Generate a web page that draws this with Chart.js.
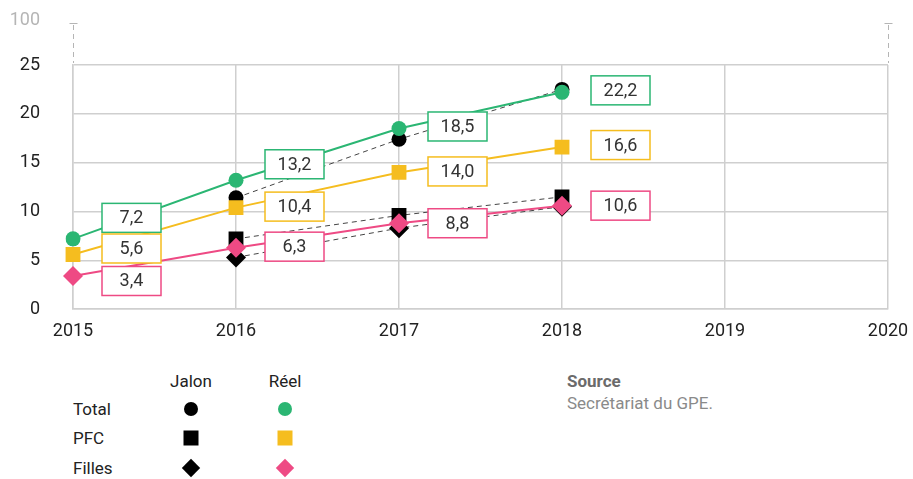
<!DOCTYPE html>
<html lang="fr">
<head>
<meta charset="utf-8">
<script src="https://cdn.jsdelivr.net/npm/chart.js@4.4.1/dist/chart.umd.min.js"></script>
<style>
    html, body { margin: 0; padding: 0; background: #fff; }
    body { width: 913px; height: 479px; position: relative; overflow: hidden; font-family: Roboto, 'Noto Sans', sans-serif; color: #222; }
    #chartBox { position: absolute; left: 0; top: 0; width: 913px; height: 353px; }
    .txt { position: absolute; font-size: 17px; line-height: 20px; white-space: nowrap; }
    .hdr { transform: translateX(-50%); }
    .mk { position: absolute; transform: translate(-50%, -50%); }
    .dot { width: 14px; height: 14px; border-radius: 50%; }
    .sq { width: 15px; height: 15px; }
    .dia { width: 13px; height: 13px; transform: translate(-50%, -50%) rotate(45deg); }
    .src { color: #6b6b6b; font-weight: 700; }
    .src2 { color: #8a8a8a; }
</style>
</head>
<body>
<div id="chartBox"><canvas id="progressChart" width="913" height="353"></canvas></div>

<div class="txt hdr" style="left:191px;top:371px;">Jalon</div>
<div class="txt hdr" style="left:285px;top:371px;">Réel</div>
<div class="txt" style="left:73px;top:399px;">Total</div>
<div class="txt" style="left:73px;top:428px;">PFC</div>
<div class="txt" style="left:73px;top:458px;">Filles</div>
<div class="mk dot" style="left:191px;top:409px;background:#000;"></div>
<div class="mk dot" style="left:285px;top:409px;background:#2bb673;"></div>
<div class="mk sq" style="left:191px;top:438px;background:#000;"></div>
<div class="mk sq" style="left:285px;top:438px;background:#f5bd1f;"></div>
<div class="mk dia" style="left:191px;top:468px;background:#000;"></div>
<div class="mk dia" style="left:285px;top:468px;background:#ee4a84;"></div>
<div class="txt src" style="left:567px;top:371px;">Source</div>
<div class="txt src2" style="left:567px;top:393px;">Secrétariat du GPE.</div>

<script>
const years = ['2015', '2016', '2017', '2018', '2019', '2020'];

const totalReel = [7.2, 13.2, 18.5, 22.2];
const pfcReel = [5.6, 10.4, 14.0, 16.6];
const fillesReel = [3.4, 6.3, 8.8, 10.6];

const totalJalon = [null, 11.4, 17.4, 22.5];
const pfcJalon = [null, 7.2, 9.6, 11.5];
const fillesJalon = [null, 5.3, 8.3, 10.5];

const yTicks = [0, 5, 10, 15, 20, 25];

const colors = { green: '#2bb673', yellow: '#f5bd1f', pink: '#ee4a84', grid: '#cfcfcf' };

// nudges (px) for the value boxes so they don't sit on top of each other
const boxShift = {
    total: [-21, -16, -2, -2],
    pfc: [-6, -1, -1, -2],
    filles: [5, -1, 0, 0]
};

const jalon = (data, style, radius) => ({
    data,
    order: 1,
    borderColor: '#444',
    borderWidth: 1,
    borderDash: [5, 4],
    pointStyle: style,
    pointRadius: radius,
    pointBackgroundColor: '#000',
    pointBorderWidth: 0,
    spanGaps: false
});

const reel = (key, data, color, style, radius) => ({
    key,
    data,
    order: 0,
    borderColor: color,
    borderWidth: 2,
    pointStyle: style,
    pointRadius: radius,
    pointBackgroundColor: color,
    pointBorderWidth: 0
});

const fmt = (v) => v.toFixed(1).replace('.', ',');

const valueBoxes = {
    id: 'valueBoxes',
    afterDatasetsDraw(chart) {
        const ctx = chart.ctx;
        chart.data.datasets.forEach((ds, i) => {
            if (!ds.key) {
                return;
            }
            const meta = chart.getDatasetMeta(i);
            meta.data.forEach((pt, j) => {
                const cy = pt.y + boxShift[ds.key][j];
                const left = pt.x + 29;
                ctx.save();
                ctx.fillStyle = '#fff';
                ctx.strokeStyle = ds.borderColor;
                ctx.lineWidth = 1.5;
                ctx.fillRect(left, cy - 14.5, 59, 29);
                ctx.strokeRect(left, cy - 14.5, 59, 29);
                ctx.fillStyle = '#333';
                ctx.font = '18px Roboto, sans-serif';
                ctx.textAlign = 'center';
                ctx.textBaseline = 'middle';
                ctx.fillText(fmt(ds.data[j]), left + 29.5, cy + 1);
                ctx.restore();
            });
        });
    }
};

// axis break above the 25 line, topped by the 100 mark
const axisBreak = {
    id: 'axisBreak',
    afterDraw(chart) {
        const { ctx, chartArea } = chart;
        ctx.save();
        ctx.strokeStyle = '#b5b5b5';
        ctx.lineWidth = 1;
        [chartArea.left, chartArea.right].forEach((x) => {
            ctx.setLineDash([5, 4]);
            ctx.beginPath();
            ctx.moveTo(x + 0.5, 25);
            ctx.lineTo(x + 0.5, chartArea.top - 2);
            ctx.stroke();
            ctx.setLineDash([]);
            ctx.beginPath();
            ctx.moveTo(x - 3.5, 23.5);
            ctx.lineTo(x + 4.5, 23.5);
            ctx.stroke();
        });
        ctx.fillStyle = '#b5b5b5';
        ctx.font = '18px Roboto, sans-serif';
        ctx.textAlign = 'right';
        ctx.textBaseline = 'middle';
        ctx.fillText('100', 40, 20);
        ctx.restore();
    }
};

new Chart(document.getElementById('progressChart'), {
    type: 'line',
    data: {
        labels: years,
        datasets: [
            reel('total', totalReel, colors.green, 'circle', 7.5),
            reel('pfc', pfcReel, colors.yellow, 'rect', 10.5),
            reel('filles', fillesReel, colors.pink, 'rectRot', 10),
            jalon(totalJalon, 'circle', 7.5),
            jalon(pfcJalon, 'rect', 10.5),
            jalon(fillesJalon, 'rectRot', 10)
        ]
    },
    options: {
        responsive: false,
        devicePixelRatio: 1,
        animation: false,
        events: [],
        layout: { padding: { top: 65, right: 25, left: 0, bottom: 0 } },
        plugins: { legend: { display: false }, tooltip: { enabled: false } },
        scales: {
            x: {
                offset: false,
                grid: { color: colors.grid, lineWidth: 1.5, drawTicks: false },
                border: { color: colors.grid, width: 1.5 },
                ticks: { color: '#222', padding: 11, maxRotation: 0, font: { family: 'Roboto', size: 18 } },
                afterFit: (scale) => {
                    scale.height = 32;
                    scale.paddingRight = 0;
                }
            },
            y: {
                min: 0,
                max: 25,
                afterBuildTicks: (scale) => { scale.ticks = yTicks.map((value) => ({ value })); },
                grid: { color: colors.grid, lineWidth: 1.5, drawTicks: false },
                border: { color: colors.grid, width: 1.5 },
                ticks: { color: '#222', padding: 33, font: { family: 'Roboto', size: 18 } },
                afterFit: (scale) => { scale.width = 73; }
            }
        }
    },
    plugins: [valueBoxes, axisBreak]
});
</script>
</body>
</html>
